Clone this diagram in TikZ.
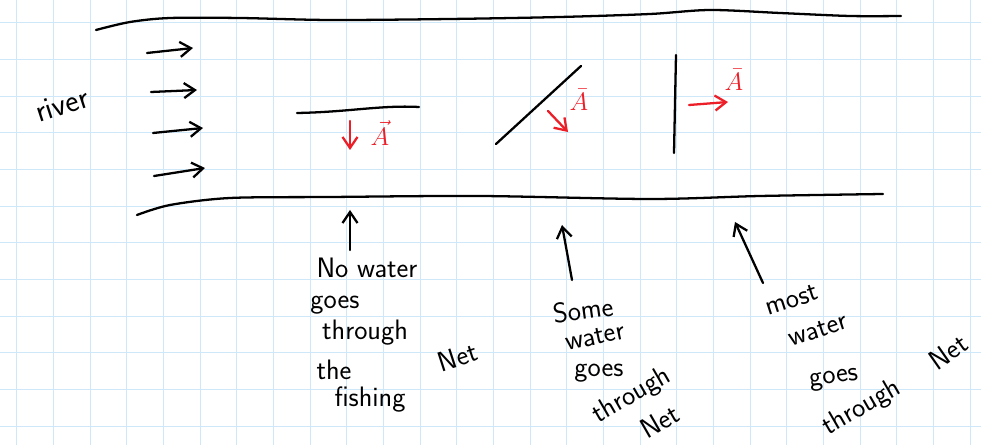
\documentclass[tikz,border=0pt]{standalone}
\usepackage{fontspec}
\usetikzlibrary{arrows.meta}
\definecolor{gridblue}{RGB}{206,231,249}
\definecolor{penred}{RGB}{236,30,40}
\tikzset{
  pen/.style={line width=1.3pt, line cap=round, line join=round},
  flow/.style={pen, -{Straight Barb[length=2.2mm,width=3mm]}},
  area/.style={flow, penred},
  hand/.style={inner sep=0pt, font=\sffamily\fontsize{16}{18}\selectfont},
  redvec/.style={inner sep=0pt, text=penred, font=\fontsize{15}{17}\selectfont}
}

\begin{document}
\begin{tikzpicture}[x=0.02cm, y=-0.02cm]
\useasboundingbox (0,0) rectangle (981,445);
\fill[white] (0,0) rectangle (981,445);
% grid paper
\foreach \i in {0,...,26}
  \draw[gridblue, line width=0.6pt] ({16.7+36.67*\i},0) -- ({16.7+36.67*\i},445);
\foreach \j in {0,...,11}
  \draw[gridblue, line width=0.6pt] (0,{22.7+36.67*\j}) -- (981,{22.7+36.67*\j});

% river banks
\draw[pen] plot[smooth] coordinates {(96,30) (130,22) (170,18) (240,18) (330,20) (450,19) (560,17) (650,14) (710,10) (780,13) (850,16) (901,16)};
\draw[pen] plot[smooth] coordinates {(137,215) (170,205) (230,198) (330,197) (480,196) (650,199) (760,196) (883,194)};

\node[hand, font=\sffamily\fontsize{18}{20}\selectfont\addfontfeatures{LetterSpace=35}, rotate=18] (river) at (62,105) {river};

% flow
\foreach \xa/\ya/\xb/\yb in {147/53/193/48, 151/92/197/90, 153/133/203/128, 154/176/205/168}
  \draw[flow] (\xa,\ya) -- (\xb,\yb);

% nets
\coordinate (flatL) at (297,113);
\coordinate (flatR) at (419,107);
\draw[pen] (flatL) .. controls (350,112) and (380,105) .. (flatR);
\coordinate (tiltL) at (496,144);
\coordinate (tiltR) at (581,66);
\draw[pen] (tiltL) -- (tiltR);
\coordinate (upT) at (676,55);
\coordinate (upB) at (674,153);
\draw[pen] (upT) -- (upB);

% area vectors
\draw[area] (350,121) -- (350,150);
\node[redvec] (vecflat) at (380,133) {$\vec{A}$};
\draw[area] (548,111) -- (568,132);
\node[redvec] (vectilt) at (579,100) {$\bar{A}$};
\draw[area] (689,105) -- (728,102);
\node[redvec] (vecup) at (734,80) {$\bar{A}$};

% no water
\node[hand] (none) at (367,268) {No water};
\node[hand] (nonegoes) at (335,305) {goes};
\node[hand] (nonethrough) at (365,333) {through};
\node[hand] (nonethe) at (334,370) {the};
\node[hand] (nonefishing) at (370,400) {fishing};
\node[hand, rotate=18] (nonenet) at (458,357) {Net};
\coordinate (noneTail) at (350,250);
\coordinate (noneTip) at (350,210);
\draw[flow] (noneTail) -- (noneTip);

% some water
\node[hand, rotate=8] (some) at (583,310) {Some};
\node[hand, rotate=12] (somewater) at (595,337) {water};
\node[hand] (somegoes) at (599,373) {goes};
\node[hand, rotate=30] (somethrough) at (632,396) {through};
\node[hand, rotate=30] (somenet) at (660,421) {Net};
\coordinate (someTail) at (572,280);
\coordinate (someTip) at (562,225);
\draw[flow] (someTail) -- (someTip);

% most water
\node[hand, rotate=18] (most) at (792,300) {most};
\node[hand, rotate=18] (mostwater) at (818,330) {water};
\node[hand, rotate=8] (mostgoes) at (834,380) {goes};
\node[hand, rotate=30] (mostthrough) at (862,408) {through};
\node[hand, rotate=35] (mostnet) at (948,352) {Net};
\coordinate (mostTail) at (763,283);
\coordinate (mostTip) at (735,222);
\draw[flow] (mostTail) -- (mostTip);
\end{tikzpicture}
\end{document}
